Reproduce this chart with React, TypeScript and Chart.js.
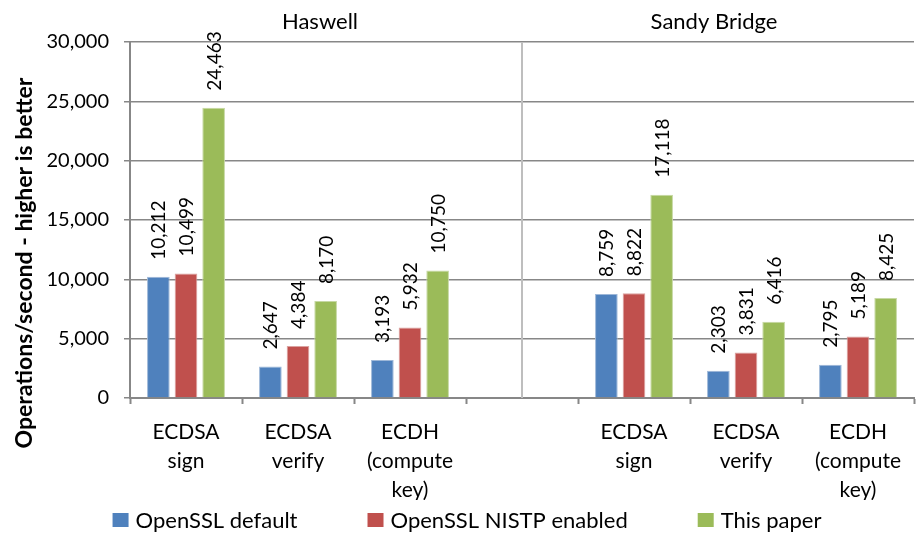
import React, { useEffect, useRef } from "react";
import { Chart, registerables } from "chart.js";

Chart.register(...registerables);

const categories: string[][] = [
  ["ECDSA", "sign"],
  ["ECDSA", "verify"],
  ["ECDH", "(compute", "key)"],
  [""],
  ["ECDSA", "sign"],
  ["ECDSA", "verify"],
  ["ECDH", "(compute", "key)"],
];
const groupTitles = ["Haswell", "Sandy Bridge"];
const seriesNames = ["OpenSSL default", "OpenSSL NISTP enabled", "This paper"];
const opensslDefault = [10212, 2647, 3193, null, 8759, 2303, 2795];
const opensslNistp = [10499, 4384, 5932, null, 8822, 3831, 5189];
const thisPaper = [24463, 8170, 10750, null, 17118, 6416, 8425];
const yTicks = [0, 5000, 10000, 15000, 20000, 25000, 30000];
const yTitle = "Operations/second - higher is better";

const colors = ["#4F81BD", "#C0504D", "#9BBB59"];
const borders = ["#9DB7D8", "#DBA2A0", "#C6D8A3"];
const FONT = "Lato, 'Open Sans', sans-serif";
const GRID = "#878787";

const fmt = (v: number) => v.toLocaleString("en-US");

const decorPlugin = {
  id: "decor",
  beforeDatasetsDraw(chart: any) {
    const ctx = chart.ctx;
    const xs = chart.scales.x;
    const area = chart.chartArea;
    const dx = xs.getPixelForValue(3);
    ctx.save();
    ctx.strokeStyle = "#BEBEBE";
    ctx.lineWidth = 2;
    ctx.beginPath();
    ctx.moveTo(dx, area.top);
    ctx.lineTo(dx, area.bottom);
    ctx.stroke();
    ctx.restore();
  },
  afterDraw(chart: any) {
    const ctx = chart.ctx;
    const xs = chart.scales.x;
    const area = chart.chartArea;
    const dx = xs.getPixelForValue(3);
    ctx.save();
    // group titles
    ctx.fillStyle = "#000";
    ctx.font = `22px ${FONT}`;
    ctx.textAlign = "center";
    ctx.textBaseline = "middle";
    ctx.fillText(groupTitles[0], (area.left + dx) / 2 - 6, 22);
    ctx.fillText(groupTitles[1], (dx + area.right) / 2 - 4, 22);

    // data labels
    ctx.font = `19px ${FONT}`;
    ctx.textAlign = "left";
    ctx.textBaseline = "middle";
    chart.data.datasets.forEach((ds: any, i: number) => {
      const meta = chart.getDatasetMeta(i);
      meta.data.forEach((el: any, j: number) => {
        const v = ds.data[j];
        if (v === null || v === undefined) return;
        ctx.save();
        ctx.translate(el.x, el.y - 17);
        ctx.rotate(-Math.PI / 2);
        ctx.fillText(fmt(v), 0, 1);
        ctx.restore();
      });
    });

    // y axis title
    ctx.save();
    ctx.font = `bold 23px ${FONT}`;
    ctx.textAlign = "center";
    ctx.textBaseline = "middle";
    ctx.translate(25, 263);
    ctx.rotate(-Math.PI / 2);
    ctx.fillText(yTitle, 0, 0);
    ctx.restore();

    // legend
    ctx.font = `22px ${FONT}`;
    ctx.textBaseline = "middle";
    ctx.textAlign = "left";
    const box = 16;
    const gapText = 7;
    const gapItem = 70;
    const widths = chart.data.datasets.map(
      (ds: any) => box + gapText + ctx.measureText(ds.label).width
    );
    const total = widths.reduce((a: number, b: number) => a + b, 0) + gapItem * (widths.length - 1);
    let x = chart.width / 2 + 7 - total / 2;
    const y = 520;
    chart.data.datasets.forEach((ds: any, i: number) => {
      ctx.fillStyle = ds.backgroundColor;
      ctx.fillRect(x, y - 7, box, 14);
      ctx.fillStyle = "#000";
      ctx.fillText(ds.label, x + box + gapText, y + 1);
      x += widths[i] + gapItem;
    });
    ctx.restore();
  },
};

export default function App() {
  const ref = useRef<HTMLCanvasElement | null>(null);
  useEffect(() => {
    document.body.style.margin = "0";
    const canvas = ref.current;
    if (!canvas) return;
    const series = [opensslDefault, opensslNistp, thisPaper];
    const chart = new Chart(canvas, {
      type: "bar",
      data: {
        labels: categories,
        datasets: series.map((d, i) => ({
          label: seriesNames[i],
          data: d,
          backgroundColor: colors[i],
          borderColor: borders[i],
          borderWidth: 1,
          categoryPercentage: 0.74,
          barPercentage: 0.82,
        })),
      },
      options: {
        animation: false,
        responsive: false,
        maintainAspectRatio: false,
        layout: { padding: { top: 42, left: 0, right: 6, bottom: 35 } },
        plugins: {
          legend: { display: false },
          tooltip: { enabled: false },
          title: { display: false },
        },
        scales: {
          x: {
            type: "category",
            grid: {
              display: true,
              drawOnChartArea: false,
              drawTicks: true,
              tickLength: 6,
              tickWidth: 2,
              tickColor: GRID,
              offset: true,
            },
            border: { display: true, color: GRID, width: 2 },
            ticks: {
              color: "#000",
              font: { family: FONT, size: 21, lineHeight: 1.38 },
              padding: 14,
              maxRotation: 0,
              autoSkip: false,
            },
            afterFit: (s: any) => {
              s.height = 102;
            },
          },
          y: {
            min: 0,
            max: 30000,
            afterBuildTicks: (s: any) => {
              s.ticks = yTicks.map((v) => ({ value: v }));
            },
            grid: {
              color: GRID,
              lineWidth: 1.5,
              drawTicks: true,
              tickLength: 6,
              tickColor: GRID,
            },
            border: { display: true, color: GRID, width: 2 },
            ticks: {
              color: "#000",
              font: { family: FONT, size: 20 },
              padding: 15,
              callback: (v: any) => fmt(Number(v)),
            },
            afterFit: (s: any) => {
              s.width = 130;
            },
          },
        },
      },
      plugins: [decorPlugin],
    });
    return () => chart.destroy();
  }, []);
  return (
    <div style={{ width: 920, height: 535 }}>
      <canvas ref={ref} width={920} height={535} style={{ display: "block" }} />
    </div>
  );
}
